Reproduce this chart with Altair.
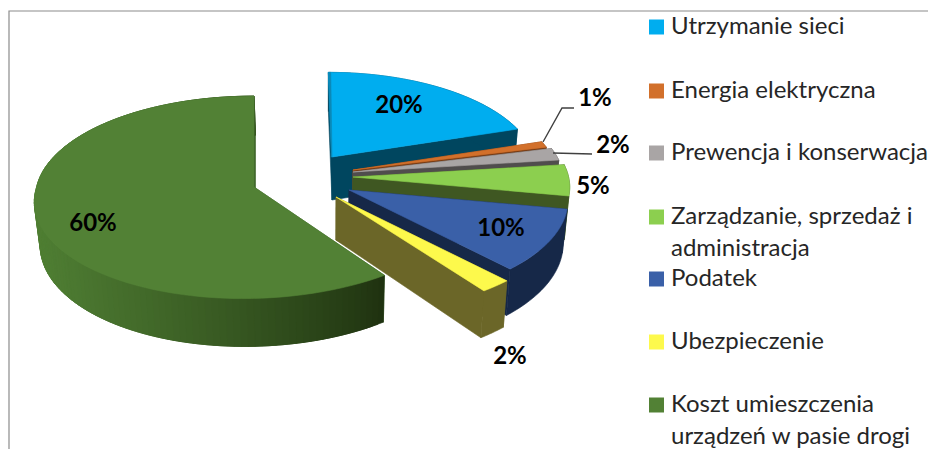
import numpy as np
import pandas as pd
import altair as alt

# ---- values
categories = ["Utrzymanie sieci", "Energia elektryczna", "Prewencja i konserwacja",
              "Zarządzanie, sprzedaż i administracja", "Podatek", "Ubezpieczenie",
              "Koszt umieszczenia urządzeń w pasie drogi"]
values = [20, 1, 2, 5, 10, 2, 60]

# ---- styles
top_colors = ["#00adef", "#d2702b", "#a9a5a5", "#8ccf4f", "#3a60a8", "#fdf94c", "#528135"]
wall_colors = ["#00465f", "#7a3d14", "#504d4d", "#3f5722", "#162848", "#6b6628", "#3d6328"]

# ---- layout of the exploded 3D pie (pixels of the page)
apex_x = [332, 353, 353, 353, 349, 336, 254]
apex_y = [157, 170, 172, 177, 190, 197, 187]
radius = [0.92, 0.93, 0.955, 0.98, 0.99, 1.05, 0.988]
shear = [4, 0, 0, 0, 0, 0, 0]        # lean of the far rim
front_shear = [0, 0, 0, 0, 0, 0, 10]  # lean of the near rim
A, B, K, DEPTH = 220.0, 101.4, 0.102, 43.0
paint_order = [6, 0, 1, 2, 3, 4, 5]

legend_lines = [["Utrzymanie sieci"], ["Energia elektryczna"], ["Prewencja i konserwacja"],
                ["Zarządzanie, sprzedaż i", "administracja"], ["Podatek"], ["Ubezpieczenie"],
                ["Koszt umieszczenia", "urządzeń w pasie drogi"]]
legend_y = [27, 91, 153, 217, 279, 342, 405]
label_x = [399, 595, 613, 593, 501, 510, 93]
label_y = [106, 99, 146, 187, 229, 357, 224]
LINE = 32


def rim(i, th):
    u, v = np.sin(th), -np.cos(th)
    s = 1 / (1 - K * v)
    lean = shear[i] * v * s if v < 0 else -front_shear[i] * v * s
    return apex_x[i] + radius[i] * A * u * s + lean, apex_y[i] + radius[i] * B * v * s, s


def lower(x, y, s):
    return x - 0.02 * (x - 330), y + DEPTH * s


rows = []
pid = [0]


def add_poly(pts, col):
    pts = list(pts) + [pts[0]]
    for j, (x, y) in enumerate(pts):
        rows.append({"x": float(x), "y": float(y), "poly": pid[0], "j": j, "col": col})
    pid[0] += 1


def mix(c1, c2, t):
    a = [int(c1[k:k + 2], 16) for k in (1, 3, 5)]
    b = [int(c2[k:k + 2], 16) for k in (1, 3, 5)]
    return "#" + "".join(f"{round(p + (q - p) * t):02x}" for p, q in zip(a, b))


starts = np.cumsum([0] + values[:-1]) / sum(values) * 2 * np.pi
for i in paint_order:
    t0 = starts[i]
    t1 = t0 + values[i] / sum(values) * 2 * np.pi
    ax, ay = apex_x[i], apex_y[i]
    bx, by = lower(ax, ay, 1.0)
    # cut faces
    for th in (t0, t1):
        x, y, s = rim(i, th)
        lx, ly = lower(x, y, s)
        add_poly([(ax, ay), (x, y), (lx, ly), (bx, by)], wall_colors[i])
    # outer wall
    if i == 6:
        ths = np.linspace(t0, t1, 130)
        for k in range(len(ths) - 1):
            a0, a1 = ths[k], ths[min(k + 3, len(ths) - 1)]
            x0, y0, s0 = rim(i, a0)
            x1, y1, s1 = rim(i, a1)
            col = mix("#1f3210", "#4f7e33", float(np.clip((385 - x0) / 345, 0, 1)) ** 0.85)
            add_poly([(x0, y0), (x1, y1), lower(x1, y1, s1), lower(x0, y0, s0)], col)
    else:
        ths = np.linspace(t0, t1, 24)
        upper = [rim(i, th) for th in ths]
        add_poly([p[:2] for p in upper] + [lower(*p) for p in upper[::-1]], wall_colors[i])
    # top face
    ths = np.linspace(t0, t1, 90)
    add_poly([(ax, ay)] + [rim(i, th)[:2] for th in ths], top_colors[i])
    if i == 0:  # lit sliver along the far cut
        x, y, s = rim(i, t0)
        add_poly([(x, y), (x + 2.4, y), (ax, ay), (ax - 0.8, ay)], "#0a89b8")

poly_df = pd.DataFrame(rows)

xs = alt.Scale(domain=[8, 928], nice=False, zero=False)
ys = alt.Scale(domain=[449, 8], nice=False, zero=False)
X = alt.X("x:Q", scale=xs, axis=None)
Y = alt.Y("y:Q", scale=ys, axis=None)

pie = alt.Chart(poly_df).mark_line(filled=True, strokeWidth=0.6, strokeJoin="round").encode(
    x=X, y=Y, detail="poly:O", order="j:Q",
    fill=alt.Fill("col:N", scale=None), stroke=alt.Stroke("col:N", scale=None))

# frame
frame = alt.Chart(pd.DataFrame({"x": [9, 9, 928], "y": [449, 11, 11], "j": [0, 1, 2]})).mark_line(
    color="#8c8c8c", strokeWidth=1.2).encode(x=X, y=Y, order="j:Q")

# leader lines
lead = pd.DataFrame({"x": [543, 562, 574, 553, 592], "y": [142, 108, 108, 153, 154],
                     "k": [0, 0, 0, 1, 1], "j": [0, 1, 2, 0, 1]})
leaders = alt.Chart(lead).mark_line(color="#404040", strokeWidth=1.4).encode(
    x=X, y=Y, detail="k:O", order="j:Q")

# data labels
lab = pd.DataFrame({"x": label_x, "y": label_y, "t": [f"{v}%" for v in values]})
labels = alt.Chart(lab).mark_text(font="Lato", fontSize=24, fontWeight="bold", color="#000000",
                                  align="center", baseline="middle").encode(x=X, y=Y, text="t:N")

# legend
sq = pd.DataFrame({"x": [656.5] * len(legend_y), "y": legend_y, "col": top_colors})
squares = alt.Chart(sq).mark_square(size=225, opacity=1, strokeWidth=0).encode(
    x=X, y=Y, fill=alt.Fill("col:N", scale=None))
txt_rows = []
for y, lines in zip(legend_y, legend_lines):
    for n, t in enumerate(lines):
        txt_rows.append({"x": 671, "y": y + n * LINE, "t": t})
legend_txt = alt.Chart(pd.DataFrame(txt_rows)).mark_text(
    font="Lato", fontSize=24, color="#262626", align="left", baseline="middle").encode(
    x=X, y=Y, text="t:N")

chart = alt.layer(frame, pie, leaders, labels, squares, legend_txt).properties(
    width=920, height=441, padding=0, autosize=alt.AutoSizeParams(type="none"),
    background="#ffffff").configure_view(stroke=None)

chart.save("out.html", embed_options={"renderer": "svg", "actions": False})
